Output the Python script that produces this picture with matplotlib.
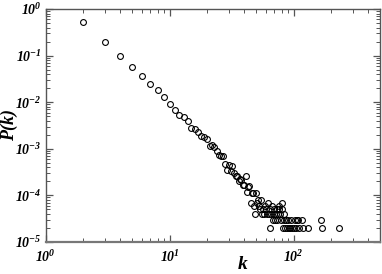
import matplotlib
matplotlib.use("Agg")
import matplotlib.pyplot as plt
from matplotlib.ticker import LogLocator, FuncFormatter, NullFormatter
import numpy as np

plt.rcParams['font.family'] = ['Liberation Serif', 'DejaVu Serif']
plt.rcParams['mathtext.fontset'] = 'custom'
plt.rcParams['mathtext.rm'] = 'Liberation Serif:bold:italic'
plt.rcParams['mathtext.it'] = 'Liberation Serif:bold:italic'
plt.rcParams['mathtext.bf'] = 'Liberation Serif:bold:italic'
plt.rcParams['mathtext.default'] = 'bf'

k_vals = [2, 3, 4, 5, 6, 7, 8, 9, 10, 11, 12, 13, 14, 15, 16, 17, 18, 19, 20,
          21, 22, 23, 24, 25, 26, 27, 28, 29, 30, 31, 32, 33, 34, 35, 36, 37,
          38, 39, 40, 41, 42, 43, 44, 45, 46, 47, 48, 49, 50, 51, 52, 53, 54,
          55, 56, 57, 58, 59, 60, 61, 62, 63, 64, 65, 66, 67, 68, 69, 70, 71,
          72, 73, 74, 75, 76, 77, 78, 79, 80, 81, 82, 83, 84, 85, 87, 89, 91,
          92, 94, 96, 98, 100, 102, 104, 106, 108, 110, 116, 120, 130, 168,
          170, 235]
p_vals = [0.52, 0.20, 0.10, 0.057, 0.037, 0.024, 0.018, 0.0128, 0.0090,
          0.0069, 0.0053, 0.0047, 0.0039, 0.0028, 0.0026, 0.0023, 0.0019,
          0.0018, 0.0016, 0.00112, 0.00123, 0.00110, 0.00090, 0.00074,
          0.00069, 0.00070, 0.00046, 0.00035, 0.00044, 0.00033, 0.00042,
          0.00030, 0.00026, 0.00026, 0.00020, 0.00023, 0.00021, 0.00017,
          0.00017, 0.00026, 0.00012, 0.00015, 0.00016, 7e-5, 1.1e-4, 1.1e-4,
          6e-5, 4e-5, 1.1e-4, 7e-5, 8e-5, 6e-5, 5e-5, 8e-5, 4e-5, 5e-5, 4e-5,
          6e-5, 5e-5, 4e-5, 7e-5, 4e-5, 2e-5, 5e-5, 4e-5, 6e-5, 3e-5, 4e-5,
          5e-5, 3e-5, 4e-5, 5e-5, 3e-5, 4e-5, 5e-5, 6e-5, 4e-5, 3e-5, 7e-5,
          5e-5, 2e-5, 4e-5, 3e-5, 2e-5, 3e-5, 2e-5, 3e-5, 2e-5, 2e-5, 3e-5,
          2e-5, 2e-5, 3e-5, 2e-5, 3e-5, 3e-5, 2e-5, 3e-5, 2e-5, 2e-5, 3e-5,
          2e-5, 2e-5]

y_label = 'P(k)'
x_label = 'k'


def pow10(v, pos):
    e = int(round(np.log10(v)))
    return r'$\mathbf{10^{%d}}$' % e


fig = plt.figure(figsize=(3.82, 2.74), dpi=100)
ax = fig.add_axes([0.120, 0.117, 0.875, 0.850])
ax.plot(k_vals, p_vals, linestyle='none', marker='o', markersize=4.2,
        markerfacecolor='none', markeredgecolor='black', markeredgewidth=0.8)
ax.set_xscale('log')
ax.set_yscale('log')
ax.set_xlim(1, 500)
ax.set_ylim(1e-5, 1)

for s in ax.spines.values():
    s.set_color('#555555')
    s.set_linewidth(1.0)
ax.spines['bottom'].set_linewidth(1.6)
ax.spines['bottom'].set_color('#777777')

ax.xaxis.set_major_locator(LogLocator(base=10, numticks=10))
ax.yaxis.set_major_locator(LogLocator(base=10, numticks=10))
ax.xaxis.set_minor_locator(LogLocator(base=10, subs=range(2, 10), numticks=10))
ax.yaxis.set_minor_locator(LogLocator(base=10, subs=range(2, 10), numticks=10))
ax.xaxis.set_major_formatter(FuncFormatter(pow10))
ax.yaxis.set_major_formatter(FuncFormatter(pow10))
ax.xaxis.set_minor_formatter(NullFormatter())
ax.yaxis.set_minor_formatter(NullFormatter())
ax.tick_params(which='both', direction='in', top=True, right=True,
               color='#555555', labelsize=10)
ax.tick_params(which='major', length=5, width=0.9)
ax.tick_params(axis='y', which='major', pad=3)
ax.tick_params(axis='x', which='major', pad=5)
ax.tick_params(which='minor', length=3, width=0.7)

ax.set_ylabel(y_label, fontsize=13, fontweight='bold', fontstyle='italic')
ax.yaxis.set_label_coords(-0.082, 0.5)
ax.set_xlabel(x_label, fontsize=14, fontweight='bold', fontstyle='italic')
ax.xaxis.set_label_coords(0.59, -0.062)

fig.savefig('out.png', dpi=100)
